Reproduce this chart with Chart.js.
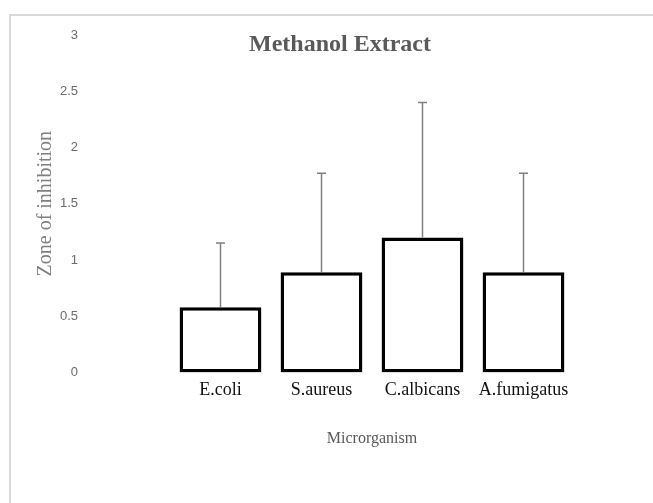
<!DOCTYPE html>
<html>
<head>
<meta charset="utf-8">
<script src="https://cdn.jsdelivr.net/npm/chart.js@4.4.0/dist/chart.umd.min.js"></script>
<style>
  body { margin: 0; background: #fff; overflow: hidden; }
  #frame { position: absolute; left: 9px; top: 14px; width: 700px; height: 600px;
           border-top: 2px solid #d9d9d9; border-left: 2px solid #d9d9d9; }
  #wrap { position: absolute; left: 0; top: 0; width: 653px; height: 503px; }
</style>
</head>
<body>
<div id="frame"></div>
<div id="wrap"><canvas id="myChart" width="653" height="503"></canvas></div>
<script>
var categories = ['E.coli', 'S.aureus', 'C.albicans', 'A.fumigatus'];
var zoneMeans = [0.58, 0.89, 1.2, 0.89];
var zoneErrors = [0.57, 0.88, 1.2, 0.88];
var yTicks = [0, 0.5, 1, 1.5, 2, 2.5, 3];

// error bars (upper only) drawn from the data through the y scale
var errorBars = {
  id: 'errorBars',
  afterDatasetsDraw: function(chart) {
    var ctx = chart.ctx;
    var meta = chart.getDatasetMeta(0);
    var y = chart.scales.y;
    ctx.save();
    ctx.strokeStyle = '#7f7f7f';
    ctx.lineWidth = 1.5;
    meta.data.forEach(function(bar, i) {
      var top = y.getPixelForValue(zoneMeans[i] + zoneErrors[i]);
      var base = y.getPixelForValue(zoneMeans[i]);
      ctx.beginPath();
      ctx.moveTo(bar.x, base);
      ctx.lineTo(bar.x, top);
      ctx.moveTo(bar.x - 4.5, top);
      ctx.lineTo(bar.x + 4.5, top);
      ctx.stroke();
    });
    ctx.restore();
  }
};

// title sits inside the plot area, so draw it here
var insideTitle = {
  id: 'insideTitle',
  afterDraw: function(chart) {
    var ctx = chart.ctx;
    ctx.save();
    ctx.font = 'bold 24px "Liberation Serif", serif';
    ctx.fillStyle = '#595959';
    ctx.textAlign = 'center';
    ctx.textBaseline = 'middle';
    ctx.fillText('Methanol Extract', 340, 45);
    ctx.restore();
  }
};

var ctx = document.getElementById('myChart').getContext('2d');
var chart = new Chart(ctx, {
    type: 'bar',
    data: {
        labels: categories,
        datasets: [{
            label: 'Zone of inhibition',
            data: zoneMeans,
            backgroundColor: '#ffffff',
            borderColor: '#000000',
            borderWidth: 3.5,
            borderSkipped: false,
            categoryPercentage: 1,
            barPercentage: 0.81
        }]
    },
    options: {
        responsive: false,
        animation: false,
        layout: { padding: { left: 34, right: 79, top: 35, bottom: 55 } },
        plugins: {
            legend: { display: false },
            tooltip: { enabled: false }
        },
        scales: {
            x: {
                grid: { display: false, drawTicks: false },
                border: { display: false },
                ticks: {
                    padding: 7,
                    color: '#111111',
                    font: { family: '"Liberation Serif", serif', size: 18 }
                },
                title: {
                    display: true,
                    text: 'Microrganism',
                    color: '#595959',
                    padding: { top: 0, bottom: 0 },
                    font: { family: '"Liberation Serif", serif', size: 16 }
                },
                afterFit: function(scale) { scale.height = 75.6; }
            },
            y: {
                min: 0,
                max: 3,
                grid: { display: false, drawTicks: false },
                border: { display: false },
                afterBuildTicks: function(scale) {
                    scale.ticks = yTicks.map(function(v) { return { value: v }; });
                },
                ticks: {
                    padding: 92,
                    color: '#6b6b6b',
                    font: { family: '"Liberation Sans", sans-serif', size: 13 },
                    callback: function(v) { return String(v); }
                },
                title: {
                    display: true,
                    text: 'Zone of inhibition',
                    color: '#7f7f7f',
                    padding: { top: 0, bottom: 0 },
                    font: { family: '"Liberation Serif", serif', size: 20 }
                },
                afterFit: function(scale) {
                    scale.width = 136;
                    scale.paddingTop = 8;
                    scale.paddingBottom = 8;
                }
            }
        }
    },
    plugins: [errorBars, insideTitle]
});
</script>
</body>
</html>
